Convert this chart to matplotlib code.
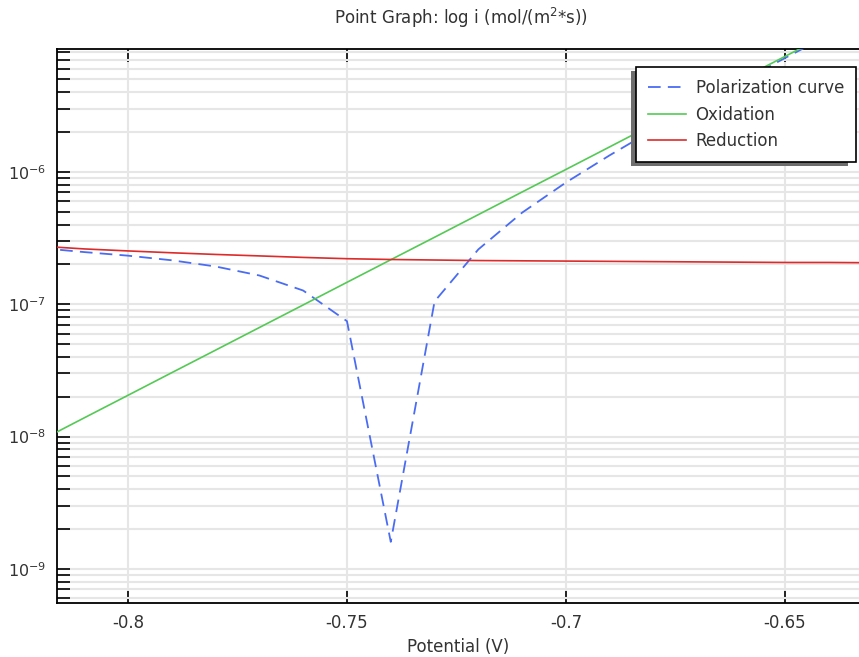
import matplotlib
matplotlib.use("Agg")
import matplotlib.pyplot as plt
from matplotlib.ticker import LogLocator, NullFormatter, FixedLocator
from matplotlib.patches import Rectangle

plt.rcParams['font.family'] = ['DejaVu Sans']

potential = [-0.82, -0.81, -0.80, -0.79, -0.78, -0.77, -0.76, -0.75, -0.74, -0.73,
             -0.72, -0.71, -0.70, -0.69, -0.68, -0.67, -0.66, -0.65, -0.64, -0.63]

polarization = [2.66e-7, 2.48e-7, 2.33e-7, 2.15e-7, 1.93e-7, 1.65e-7, 1.27e-7, 7.45e-8, 1.6e-9, 1.05e-7,
                2.60e-7, 4.93e-7, 8.33e-7, 1.338e-6, 2.09e-6, 3.19e-6, 4.83e-6, 7.26e-6, 1.086e-5, 1.62e-5]

oxidation = [9.33e-9, 1.384e-8, 2.05e-8, 3.04e-8, 4.50e-8, 6.67e-8, 9.88e-8, 1.465e-7, 2.17e-7, 3.21e-7,
             4.76e-7, 7.06e-7, 1.045e-6, 1.549e-6, 2.30e-6, 3.40e-6, 5.04e-6, 7.47e-6, 1.107e-5, 1.64e-5]

reduction = [2.75e-7, 2.62e-7, 2.53e-7, 2.45e-7, 2.38e-7, 2.32e-7, 2.26e-7, 2.21e-7, 2.18e-7, 2.16e-7,
             2.14e-7, 2.13e-7, 2.12e-7, 2.11e-7, 2.10e-7, 2.09e-7, 2.08e-7, 2.07e-7, 2.07e-7, 2.06e-7]

x_ticks = [-0.80, -0.75, -0.70, -0.65]
x_tick_labels = ["-0.8", "-0.75", "-0.7", "-0.65"]

W, H = 859, 657
fig = plt.figure(figsize=(W / 100, H / 100), dpi=100)
ax = fig.add_axes([57 / W, (H - 603) / H, (859 - 57) / W, (603 - 49) / H])

text_color = '#333333'
grid_color = '#e6e6e6'

ax.plot(potential, polarization, color='#4a6cf2', lw=1.3, dashes=(7, 4),
        label='Polarization curve', zorder=3)
ax.plot(potential, oxidation, color='#55c955', lw=1.2, label='Oxidation', zorder=3)
ax.plot(potential, reduction, color='#dd2a2a', lw=1.2, label='Reduction', zorder=3)

ax.set_yscale('log')
ax.set_xlim(-0.8162, -0.6331)
ax.set_ylim(5.52e-10, 8.5e-6)

ax.xaxis.set_major_locator(FixedLocator(x_ticks))
ax.set_xticklabels(x_tick_labels)
ax.yaxis.set_major_locator(LogLocator(base=10, numticks=20))
ax.yaxis.set_minor_locator(LogLocator(base=10, subs=range(2, 10), numticks=20))
ax.yaxis.set_minor_formatter(NullFormatter())
ax.yaxis.get_offset_text().set_visible(False)
ax.xaxis.get_offset_text().set_visible(False)

ax.grid(True, which='major', axis='x', color=grid_color, lw=1.5, zorder=0)
ax.grid(True, which='both', axis='y', color=grid_color, lw=1.5, zorder=0)
ax.set_axisbelow(True)

ax.tick_params(which='both', direction='in', top=True, right=False, length=9, width=1.2,
               colors='black', labelcolor=text_color, pad=8)
ax.tick_params(axis='x', labelsize=12)
ax.tick_params(axis='y', labelsize=11.5)

for s in ['left', 'top', 'bottom']:
    ax.spines[s].set_linewidth(1.3)
ax.spines['right'].set_visible(False)

ax.set_xlabel('Potential (V)', fontsize=12, color=text_color, labelpad=4)
fig.text(461 / W, 1 - 18 / H, 'Point Graph: log i (mol/(m$^2$*s))', ha='center', va='center',
         fontsize=12, color=text_color)

# legend box: x 636..853, y 67..162 (pixels)
lx0, lx1, ly0, ly1 = 636, 853, 67, 162
leg = fig.legend(loc='upper left', bbox_to_anchor=(lx0 / W, 1 - ly0 / H),
                 frameon=True, fancybox=False, shadow=False,
                 fontsize=12, handlelength=2.3, borderpad=0.72, labelspacing=0.52,
                 borderaxespad=0, handletextpad=0.55)
leg.set_zorder(10)
frame = leg.get_frame()
frame.set_edgecolor('black')
frame.set_linewidth(1.2)
frame.set_alpha(1.0)
for t in leg.get_texts():
    t.set_color(text_color)

# shadow of the legend box, offset left and down
fig.patches.append(Rectangle(((lx0 - 5) / W, 1 - (ly1 + 4) / H), (lx1 - lx0) / W, (ly1 - ly0) / H,
                             transform=fig.transFigure, facecolor='#6e6e6e', edgecolor='none',
                             zorder=9))

fig.savefig('out.png', dpi=100)
